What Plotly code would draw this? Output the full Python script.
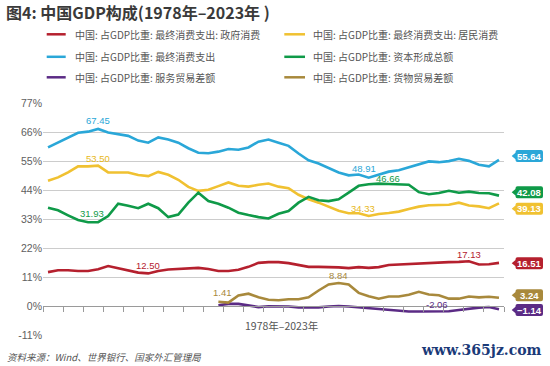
import plotly.graph_objects as go

# ---------------- data ----------------
years = list(range(1978, 2024))

gov_consumption = [13.0, 13.7, 13.7, 13.4, 13.4, 14.1, 15.3, 14.4, 13.6, 12.8,
                   12.50, 13.4, 14.0, 14.2, 14.6, 14.6, 14.2, 13.4, 13.4, 13.9,
                   15.0, 16.5, 16.8, 16.8, 16.4, 15.6, 15.0, 15.0, 15.0, 14.8,
                   14.5, 14.9, 14.6, 14.9, 15.7, 15.9, 16.0, 16.4, 16.6, 16.6,
                   16.8, 16.9, 17.13, 15.9, 16.0, 16.51]

household_consumption = [47.7, 49.0, 50.9, 53.2, 53.2, 53.50, 50.9, 50.9, 50.9, 49.9,
                         49.5, 51.1, 50.0, 48.1, 45.4, 43.9, 44.3, 45.7, 47.1, 45.8,
                         45.5, 46.2, 46.7, 45.5, 44.9, 42.4, 40.7, 39.4, 38.0, 36.3,
                         35.4, 35.4, 34.33, 35.1, 35.5, 36.0, 37.0, 37.9, 38.4, 38.4,
                         38.6, 39.4, 38.3, 38.0, 37.3, 39.13]

final_consumption = [60.4, 62.3, 64.2, 66.0, 66.4, 67.45, 66.1, 65.4, 64.8, 63.0,
                     62.2, 64.2, 63.4, 62.2, 60.1, 58.4, 58.2, 58.8, 59.8, 59.5,
                     60.4, 62.6, 63.4, 62.2, 61.0, 58.1, 55.5, 54.3, 52.6, 50.9,
                     49.8, 50.1, 48.91, 50.0, 51.2, 51.7, 52.9, 54.1, 55.1, 54.8,
                     55.2, 56.1, 55.3, 53.8, 53.2, 55.64]

capital_formation = [37.5, 36.5, 34.6, 32.8, 31.93, 32.0, 34.3, 39.0, 38.2, 37.3,
                     39.0, 37.3, 33.9, 34.9, 39.4, 43.2, 40.0, 39.0, 37.5, 35.6,
                     34.7, 33.9, 33.4, 35.2, 36.2, 39.4, 41.6, 40.3, 40.0, 40.7,
                     43.2, 45.8, 46.4, 46.66, 46.5, 46.4, 46.2, 43.4, 42.6, 43.1,
                     43.9, 43.2, 43.6, 43.1, 43.0, 42.08]

trade_years = list(range(1995, 2024))
services_balance = [0.4, 0.9, 0.9, 0.2, -0.3, 0.0, 0.0, -0.1, -0.4, -0.4,
                    -0.4, -0.1, 0.1, -0.1, -0.4, -0.6, -0.9, -1.3, -1.7, -2.0,
                    -2.0, -2.0, -2.06, -1.9, -1.4, -0.9, -0.5, -0.3, -1.14]
goods_balance = [1.7, 1.41, 4.1, 4.8, 3.4, 2.5, 2.3, 2.7, 2.7, 3.4,
                 6.0, 8.3, 8.84, 8.3, 5.1, 3.8, 2.9, 3.7, 3.7, 4.4,
                 5.5, 4.5, 4.2, 2.9, 2.9, 3.7, 3.4, 3.6, 3.24]

y_ticks = [-11, 0, 11, 22, 33, 44, 55, 66, 77]
y_ticktext = ["-11%", "0%", "11%", "22%", "33%", "44%", "55%", "66%", "77%"]
x_tickvals = [1977.5 + 2 * k for k in range(24)]

prefix = "中国: 占GDP比重: "
series = [
    ("最终消费支出: 政府消费", years, gov_consumption, "#b5202e"),
    ("最终消费支出: 居民消费", years, household_consumption, "#f0c131"),
    ("最终消费支出", years, final_consumption, "#2aa7d8"),
    ("资本形成总额", years, capital_formation, "#0f9a48"),
    ("服务贸易差额", trade_years, services_balance, "#5b2b85"),
    ("货物贸易差额", trade_years, goods_balance, "#a8893c"),
]

# ---------------- geometry ----------------
W_FIG, H_FIG = 550, 366
M_L, M_R, M_T, M_B = 43, 46, 103, 30
PW = W_FIG - M_L - M_R
PH = H_FIG - M_T - M_B
Y_RANGE = [-11.3, 77.3]


def px(x):
    return (x - M_L) / PW


def py(y):
    return (H_FIG - M_B - y) / PH


fig = go.Figure()
for name, xs, ys, col in series:
    fig.add_trace(go.Scatter(x=xs, y=ys, mode="lines", name=prefix + name,
                             line=dict(color=col, width=2.6), showlegend=False,
                             hoverinfo="skip"))

annotations = []
shapes = []

# ---------- manual legend (2 columns x 3 rows) ----------
leg_rows = [34.3, 56.8, 77.3]
leg_cols = [(46.7, 65.7, 72.7), (284.3, 305.0, 311.0)]
for i, (name, xs, ys, col) in enumerate(series):
    r, c = i // 2, i % 2
    x0, x1, xt = leg_cols[c]
    yy = py(leg_rows[r])
    shapes.append(dict(type="line", xref="paper", yref="paper", x0=px(x0), x1=px(x1),
                       y0=yy, y1=yy, line=dict(color=col, width=2.5)))
    annotations.append(dict(xref="paper", yref="paper", x=px(xt), y=yy, xanchor="left",
                            yanchor="middle", showarrow=False, text=prefix + name,
                            font=dict(family="Noto Sans CJK SC", size=10, color="#555555")))

# ---------- in-chart value labels ----------
def lab(xs, ys, idx, col, yshift, xshift=0):
    annotations.append(dict(x=xs[idx], y=ys[idx], xref="x", yref="y", showarrow=False,
                            text=f"{ys[idx]:.2f}", xanchor="center", yanchor="middle",
                            xshift=xshift, yshift=yshift,
                            font=dict(family="Liberation Sans", size=9.5, color=col)))

lab(years, final_consumption, final_consumption.index(max(final_consumption)), "#2aa7d8", 8)
lab(years, household_consumption, household_consumption.index(max(household_consumption)), "#e8b820", 7)
lab(years, capital_formation, capital_formation.index(min(capital_formation)), "#0f9a48", 9, 4)
lab(years, gov_consumption, gov_consumption.index(min(gov_consumption)), "#b5202e", 8)
lab(trade_years, goods_balance, goods_balance.index(max(goods_balance)), "#a8893c", 8)
lab(trade_years, goods_balance, goods_balance.index(min(goods_balance)), "#a8893c", 10, -6)
lab(years, final_consumption, final_consumption.index(min(final_consumption)), "#2aa7d8", 9, -5)
lab(years, capital_formation, capital_formation.index(max(capital_formation)), "#0f9a48", 5, 9)
lab(years, household_consumption, household_consumption.index(min(household_consumption)), "#e8b820", 8, -6)
lab(years, gov_consumption, gov_consumption.index(max(gov_consumption)), "#b5202e", 7)
lab(trade_years, services_balance, services_balance.index(min(services_balance)), "#5b2b85", 7, -2)

# ---------- end-value callouts ----------
end_offsets = {0: -0.1, 1: -2.0, 2: 1.5, 3: 1.3, 4: -0.3, 5: 1.0}
callout = ("M 7.7,0 L 11.5,3.2 L 11.5,4 Q 11.5,6 13.5,6 L 37,6 Q 39,6 39,4 "
           "L 39,-4 Q 39,-6 37,-6 L 13.5,-6 Q 11.5,-6 11.5,-4 L 11.5,-3.2 Z")
for i, (name, xs, ys, col) in enumerate(series):
    yv = ys[-1] + end_offsets[i]
    shapes.append(dict(type="path", xref="paper", yref="y", xsizemode="pixel",
                       ysizemode="pixel", xanchor=1, yanchor=yv, path=callout,
                       fillcolor=col, line=dict(width=0)))
    annotations.append(dict(xref="paper", yref="y", x=1, y=yv, xshift=25.3,
                            xanchor="center", yanchor="middle", showarrow=False,
                            text=f"{ys[-1]:.2f}".replace("-", "−"),
                            font=dict(family="Liberation Sans", size=9.5, color="white",
                                      weight="bold")))

# ---------- other texts ----------
annotations.append(dict(xref="paper", yref="paper", x=px(281), y=py(325), showarrow=False,
                        text="1978年–2023年", xanchor="center", yanchor="middle",
                        font=dict(family="Noto Sans CJK SC", size=10.5, color="#555555")))
annotations.append(dict(xref="paper", yref="paper", x=px(5), y=py(356.5), showarrow=False,
                        text="资料来源：Wind、世界银行、国家外汇管理局", xanchor="left",
                        yanchor="middle",
                        font=dict(family="Noto Sans CJK SC", size=9.5, color="#555555",
                                  style="italic")))
annotations.append(dict(xref="paper", yref="paper", x=px(544), y=py(350), showarrow=False,
                        text="www.365jz.com", xanchor="right", yanchor="middle",
                        font=dict(family="DejaVu Serif", size=14, color="#1b3a78",
                                  weight="bold")))

zero_pos = (0 - Y_RANGE[0]) / (Y_RANGE[1] - Y_RANGE[0])

fig.update_layout(
    width=W_FIG, height=H_FIG,
    margin=dict(l=M_L, r=M_R, t=M_T, b=M_B),
    paper_bgcolor="white", plot_bgcolor="white",
    title=dict(text="图4: 中国GDP构成(1978年–2023年 )", xref="container", yref="container",
               x=6 / W_FIG, y=1 - 13.5 / H_FIG, xanchor="left", yanchor="middle",
               font=dict(family="Noto Sans CJK SC", size=16, color="#3a3a3a", weight="bold")),
    xaxis=dict(range=[1977.5, 2023.5], anchor="free", position=zero_pos,
               tickmode="array", tickvals=x_tickvals, showticklabels=False,
               ticks="outside", ticklen=5, tickcolor="#9a9a9a", tickwidth=1,
               showline=True, linecolor="#9a9a9a", linewidth=1, showgrid=False,
               zeroline=False, fixedrange=True),
    yaxis=dict(range=Y_RANGE, tickmode="array", tickvals=y_ticks, ticktext=y_ticktext,
               showgrid=True, gridcolor="#cccccc", gridwidth=1.4, zeroline=False,
               ticks="", showline=False, fixedrange=True,
               tickfont=dict(family="Liberation Sans", size=10.5, color="#606060")),
    showlegend=False,
    shapes=shapes,
    annotations=annotations,
)

fig.write_html("out.html", config={"displayModeBar": False},
               post_script="document.body.style.margin='0';document.body.style.overflow='hidden';")
